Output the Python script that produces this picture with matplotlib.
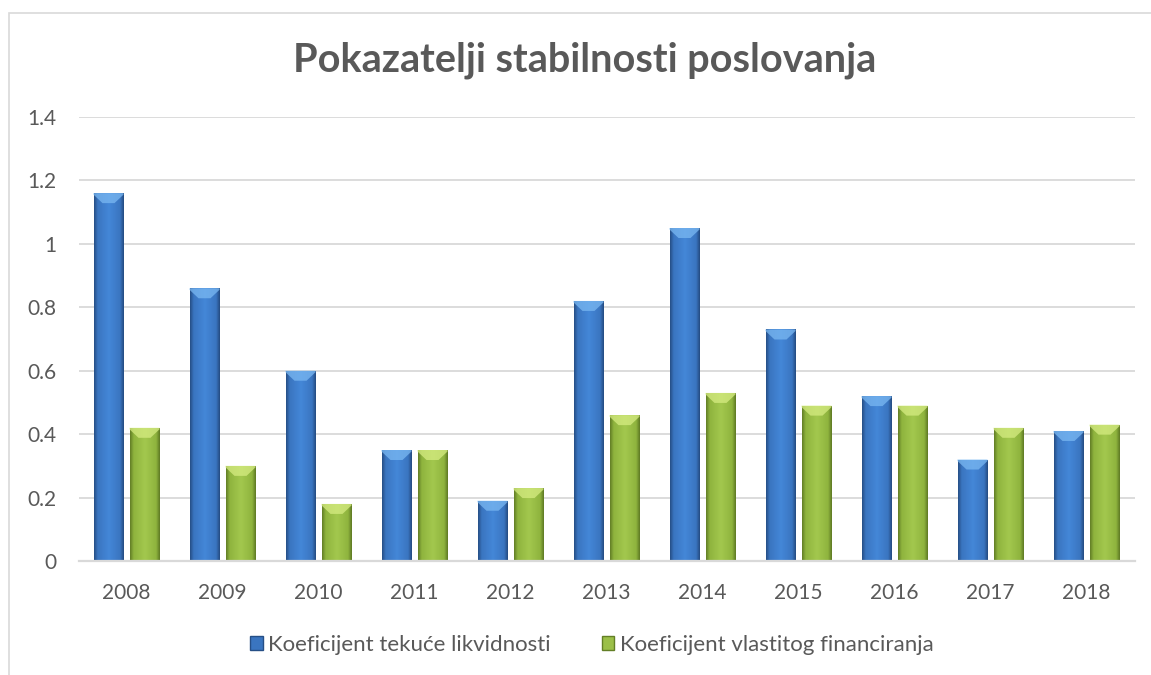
import numpy as np
import matplotlib
matplotlib.use("Agg")
import matplotlib.pyplot as plt
from matplotlib.patches import Rectangle, Polygon, Patch
from matplotlib.colors import LinearSegmentedColormap

years = ["2008", "2009", "2010", "2011", "2012", "2013", "2014", "2015", "2016", "2017", "2018"]
tekuca = [1.16, 0.86, 0.60, 0.35, 0.19, 0.82, 1.05, 0.73, 0.52, 0.32, 0.41]
vlastito = [0.42, 0.30, 0.18, 0.35, 0.23, 0.46, 0.53, 0.49, 0.49, 0.42, 0.43]
series_names = ["Koeficijent tekuće likvidnosti", "Koeficijent vlastitog financiranja"]
title = "Pokazatelji stabilnosti poslovanja"
yticks = [0, 0.2, 0.4, 0.6, 0.8, 1.0, 1.2, 1.4]
ytick_labels = ["0", "0.2", "0.4", "0.6", "0.8", "1", "1.2", "1.4"]

plt.rcParams['font.family'] = ['Lato', 'DejaVu Sans']
TXT = "#595959"
GRID = "#d9d9d9"

W, H = 1151, 675
fig = plt.figure(figsize=(W / 100, H / 100), dpi=100)
ax = fig.add_axes([78.5 / W, (H - 561) / H, (1134.5 - 78.5) / W, (561 - 117) / H])

x = np.arange(len(years))
bw = 0.3125
off = 0.1875

blue_cmap = LinearSegmentedColormap.from_list(
    "b", [(0.0, "#264f86"), (0.12, "#3a75c0"), (0.5, "#4487d8"), (0.88, "#3a75c0"), (1.0, "#254c82")])
green_cmap = LinearSegmentedColormap.from_list(
    "g", [(0.0, "#637f26"), (0.12, "#8fb43e"), (0.5, "#a3c84e"), (0.88, "#8fb43e"), (1.0, "#5f7a24")])
grad = np.linspace(0, 1, 64).reshape(1, -1)

px = 1.4 / (561 - 117)

def draw(vals, pos, cmap, bevel_color):
    bars = ax.bar(pos, vals, width=bw, color="none", edgecolor="none", zorder=3)
    for b in bars:
        x0, y0 = b.get_x(), b.get_y()
        w, h = b.get_width(), b.get_height()
        im = ax.imshow(grad, cmap=cmap, extent=[x0, x0 + w, y0, y0 + h],
                       aspect="auto", zorder=3, interpolation="bilinear")
        im.set_clip_path(b)
        top = y0 + h
        dc = min(10 * px, h * 0.5)
        ds = min(1.5 * px, h * 0.2)
        poly = Polygon([(x0, top), (x0 + w, top), (x0 + w, top - ds),
                        (x0 + w * 0.70, top - dc), (x0 + w * 0.30, top - dc), (x0, top - ds)],
                       closed=True, facecolor=bevel_color, edgecolor="none", zorder=4, alpha=0.75)
        ax.add_patch(poly)
    return bars

draw(tekuca, x - off, blue_cmap, "#7ab8f2")
draw(vlastito, x + off, green_cmap, "#d6ec82")

ax.set_xlim(-0.5, len(years) - 0.5)
ax.set_ylim(0, 1.4)
ax.set_yticks(yticks)
ax.set_yticklabels(ytick_labels)
ax.set_xticks(x)
ax.set_xticklabels(years)
ax.tick_params(axis="both", length=0, labelsize=15, colors=TXT)
ax.tick_params(axis="y", pad=16)
ax.tick_params(axis="x", pad=16)
ax.grid(axis="y", color=GRID, linewidth=1.3, zorder=0)
ax.set_axisbelow(True)
for s in ["top", "right", "left"]:
    ax.spines[s].set_visible(False)
ax.spines["bottom"].set_color(GRID)
ax.spines["bottom"].set_linewidth(1.6)
ax.spines["bottom"].set_zorder(5)

fig.text(585 / W, 1 - 60 / H, title, ha="center", va="center",
         fontsize=28.5, fontweight="bold", color=TXT)

handles = [Patch(facecolor="#3a75c0", edgecolor="#264f86"),
           Patch(facecolor="#9bbf48", edgecolor="#637f26")]
leg = fig.legend(handles, series_names, loc="center", ncol=2,
                 bbox_to_anchor=(592 / W, 1 - 645 / H), frameon=False,
                 fontsize=16, labelcolor=TXT, handlelength=0.55, handleheight=0.55,
                 handletextpad=0.25, columnspacing=2.3)

fig.patches.append(Rectangle((8.5 / W, -0.5), 5, 1.5 - 12.5 / H, transform=fig.transFigure,
                             facecolor="none", edgecolor=GRID, linewidth=1.2, zorder=0))

fig.savefig("out.png", dpi=100)
